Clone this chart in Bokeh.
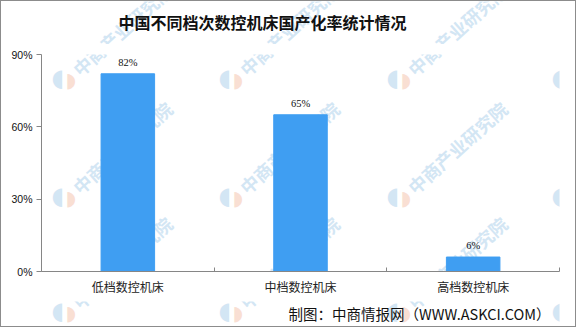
from bokeh.plotting import figure
from bokeh.layouts import column
from bokeh.models import (ColumnDataSource, FixedTicker, PrintfTickFormatter,
                          Range1d, Label, LabelSet)
from bokeh.embed import file_html
from bokeh.resources import INLINE

# data
categories = ["低档数控机床", "中档数控机床", "高档数控机床"]
rates = [82, 65, 6]
y_ticks = [0, 30, 60, 90]

W = 574
H_TITLE, H_FOOT = 43, 25
LEFT, RIGHT, TOP, BOTTOM, FRAME_H = 40, 16, 10, 30, 217
H_MAIN = TOP + FRAME_H + BOTTOM
BAR_COLOR = "#3f9ef2"
AXIS_COLOR = "#868686"
FONT_CJK = "Noto Sans CJK SC"


def add_watermark(fig, frame_top, frame_bottom):
    """Tile the faint site logo + name; positions are page pixels from the top-left.
    Only pieces that reach into this figure's frame are added."""
    cols = [-103, 64, 231, 399, 564]
    rows = [76, 194, 309]
    fl, fr = LEFT, W - RIGHT

    def put(px, py, **kw):
        fig.add_layout(Label(x=px - fl, y=frame_bottom - py,
                             x_units="screen", y_units="screen",
                             text_baseline="middle", level="underlay", **kw))

    for cx in cols:
        for cy in rows:
            # logo
            if cx + 12 > fl and cx - 12 < fr and cy + 12 > frame_top and cy - 12 < frame_bottom:
                put(cx - 1, cy, text="◖", text_color="#d3e6f4", text_font_size="24px",
                    text_font="DejaVu Sans", text_align="right")
                put(cx, cy + 2, text="◗", text_color="#f9dfd3", text_font_size="20px",
                    text_font="DejaVu Sans", text_align="left")
            # rotated name
            x0, y0 = cx + 10, cy - 6
            x1, y1 = x0 + 110, y0 - 100
            if x1 > fl and x0 - 10 < fr and y0 + 12 > frame_top and y1 < frame_bottom:
                put(x0, y0, text="中商产业研究院", angle=42, angle_units="deg",
                    text_color="#d3e6f4", text_font_size="18px", text_font=FONT_CJK,
                    text_font_style="bold", text_align="left")


def blank_strip(height):
    f = figure(width=W, height=height, output_backend="svg", toolbar_location=None,
               x_range=Range1d(0, W - LEFT - RIGHT), y_range=Range1d(0, height),
               x_axis_type=None, y_axis_type=None, min_border=0,
               min_border_left=LEFT, min_border_right=RIGHT)
    f.grid.visible = False
    f.outline_line_color = None
    f.background_fill_color = "white"
    f.border_fill_color = "white"
    return f


# --- title strip
t = blank_strip(H_TITLE)
add_watermark(t, 0, H_TITLE)
t.add_layout(Label(x=117 - LEFT, y=H_TITLE - 20, x_units="screen", y_units="screen",
                   text="中国不同档次数控机床国产化率统计情况",
                   text_font=FONT_CJK, text_font_style="bold",
                   text_font_size="16px", text_color="#111111",
                   text_align="left", text_baseline="middle"))

# --- main chart
xs = [i + 0.5 for i in range(len(categories))]
src = ColumnDataSource(dict(x=xs, top=rates,
                            label=[f"{v}%" for v in rates]))

p = figure(width=W, height=H_MAIN, output_backend="svg", toolbar_location=None,
           x_range=Range1d(0, len(categories)), y_range=Range1d(0, 90),
           min_border_left=LEFT, min_border_right=RIGHT,
           min_border_top=TOP, min_border_bottom=BOTTOM)
p.outline_line_color = None
p.grid.visible = False
p.background_fill_color = "white"
p.border_fill_color = "white"

add_watermark(p, H_TITLE + TOP, H_TITLE + TOP + FRAME_H)

p.vbar(x="x", top="top", width=0.31, source=src, color=BAR_COLOR)

p.add_layout(LabelSet(x="x", y="top", text="label", source=src,
                      text_align="center", text_baseline="bottom", y_offset=6,
                      text_font="Liberation Sans", text_font_size="10.5px",
                      text_color="#111111"))

# y axis
ya = p.yaxis[0]
ya.ticker = FixedTicker(ticks=y_ticks)
ya.formatter = PrintfTickFormatter(format="%d%%")
ya.axis_line_color = AXIS_COLOR
ya.major_tick_line_color = AXIS_COLOR
ya.major_tick_in = 0
ya.major_tick_out = 5
ya.minor_tick_line_color = None
ya.major_label_standoff = 4
ya.major_label_text_font = "Liberation Sans"
ya.major_label_text_font_size = "10.5px"
ya.major_label_text_color = "#111111"

# x axis: category names at centres, separators at boundaries
xa = p.xaxis[0]
xa.ticker = FixedTicker(ticks=xs, minor_ticks=list(range(len(categories) + 1)))
xa.major_label_overrides = {x: c for x, c in zip(xs, categories)}
xa.axis_line_color = AXIS_COLOR
xa.major_tick_line_color = None
xa.major_tick_in = 0
xa.major_tick_out = 0
xa.minor_tick_line_color = AXIS_COLOR
xa.minor_tick_in = 4
xa.minor_tick_out = 0
xa.major_label_standoff = 6
xa.major_label_text_font = FONT_CJK
xa.major_label_text_font_size = "12px"
xa.major_label_text_color = "#222222"

# --- source note strip
f = blank_strip(H_FOOT)
foot_top = H_TITLE + H_MAIN
add_watermark(f, foot_top, foot_top + H_FOOT)
f.add_layout(Label(x=287 - LEFT, y=(foot_top + H_FOOT) - 312,
                   x_units="screen", y_units="screen",
                   text="制图：中商情报网（WWW.ASKCI.COM）",
                   text_font=FONT_CJK, text_font_size="14.5px",
                   text_color="#111111",
                   text_align="left", text_baseline="middle"))

page = column(t, p, f, spacing=0)
page.styles = {"border": "1px solid #8c8c8c"}

open("out.html", "w").write(file_html(page, INLINE))
